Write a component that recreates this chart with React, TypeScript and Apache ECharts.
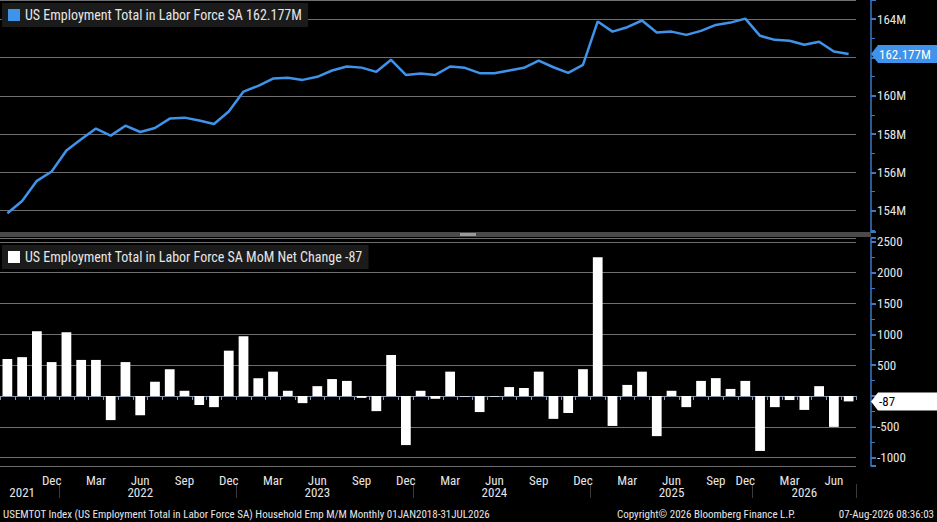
import React, { useEffect, useRef } from 'react';
import * as echarts from 'echarts';

// Sep 2021 .. Jul 2026 (no Oct 2025 release)
const months = [
    '2021-09', '2021-10', '2021-11', '2021-12',
    '2022-01', '2022-02', '2022-03', '2022-04', '2022-05', '2022-06', '2022-07', '2022-08', '2022-09', '2022-10', '2022-11', '2022-12',
    '2023-01', '2023-02', '2023-03', '2023-04', '2023-05', '2023-06', '2023-07', '2023-08', '2023-09', '2023-10', '2023-11', '2023-12',
    '2024-01', '2024-02', '2024-03', '2024-04', '2024-05', '2024-06', '2024-07', '2024-08', '2024-09', '2024-10', '2024-11', '2024-12',
    '2025-01', '2025-02', '2025-03', '2025-04', '2025-05', '2025-06', '2025-07', '2025-08', '2025-09', '2025-11', '2025-12',
    '2026-01', '2026-02', '2026-03', '2026-04', '2026-05', '2026-06', '2026-07'
];

// millions
const employment = [
    153.87, 154.51, 155.56, 156.05, 157.14, 157.73, 158.29, 157.92, 158.44, 158.11, 158.32, 158.81, 158.86, 158.71, 158.53, 159.18,
    160.22, 160.52, 160.90, 160.94, 160.83, 160.99, 161.32, 161.53, 161.47, 161.25, 161.88, 161.09, 161.16, 161.09, 161.53, 161.46,
    161.18, 161.18, 161.32, 161.46, 161.84, 161.49, 161.20, 161.61, 163.88, 163.35, 163.58, 163.93, 163.30, 163.35, 163.18, 163.39,
    163.70, 163.82, 164.03, 163.13, 162.92, 162.87, 162.66, 162.82, 162.31, 162.177
];

// thousands
const netChange = [
    600, 630, 1050, 550, 1035, 585, 585, -390, 550, -310, 230, 435, 85, -145, -180, 735,
    970, 290, 395, 85, -115, 160, 275, 245, -30, -245, 665, -795, 85, -45, 395, -10,
    -260, -10, 145, 130, 395, -370, -275, 435, 2250, -485, 180, 395, -650, 85, -180, 245,
    290, 115, 245, -890, -180, -65, -225, 160, -500, -87
];

const monthNames = ['Jan', 'Feb', 'Mar', 'Apr', 'May', 'Jun', 'Jul', 'Aug', 'Sep', 'Oct', 'Nov', 'Dec'];
const quarterLabels = ['Dec', 'Mar', 'Jun', 'Sep'];
const yearLabelAt: Record<string, string> = {
    '2021-10': '2021', '2022-06': '2022', '2023-06': '2023', '2024-06': '2024', '2025-06': '2025', '2026-04': '2026'
};

const FONT = '"Liberation Sans Narrow", "Roboto Condensed", "Arial Narrow", "Liberation Sans", sans-serif';
const BLUE = '#3f93ea';
const AXIS = '#3b78c9';
const TEXT = '#e6e6e6';
const GRID_LINE = '#6e6e6e';

const monthLabel = (m: string) => monthNames[parseInt(m.slice(5), 10) - 1];

export default function App() {
    const chartRef = useRef<HTMLDivElement>(null);

    useEffect(() => {
        if (!chartRef.current) return;
        const chart = echarts.init(chartRef.current, undefined, { renderer: 'svg' });

        const yAxisCommon = {
            type: 'value' as const,
            position: 'right' as const,
            offset: 15,
            axisLine: { show: true, lineStyle: { color: AXIS, width: 1.5 } },
            axisTick: { show: true, length: 5, inside: false, lineStyle: { color: AXIS, width: 2 } },
            minorTick: { show: true, splitNumber: 2, length: 4, lineStyle: { color: AXIS } },
            splitLine: { show: true, lineStyle: { color: GRID_LINE, width: 1 } },
            axisLabel: { color: TEXT, fontFamily: FONT, fontSize: 13, margin: 6, showMinLabel: false, showMaxLabel: false }
        };

        const lastLine = employment[employment.length - 1];
        const lastBar = netChange[netChange.length - 1];

        chart.setOption({
            animation: false,
            backgroundColor: '#000',
            legend: [
                {
                    data: ['US Employment Total in Labor Force SA'],
                    left: 2, top: 3,
                    backgroundColor: '#1b1b1b',
                    padding: [5, 6, 5, 6],
                    icon: 'rect', itemWidth: 12, itemHeight: 12, itemGap: 4,
                    selectedMode: false,
                    formatter: (n: string) => `${n} ${lastLine.toFixed(3)}M`,
                    textStyle: { color: TEXT, fontFamily: FONT, fontSize: 14 }
                },
                {
                    data: ['US Employment Total in Labor Force SA MoM Net Change'],
                    left: 2, top: 245,
                    backgroundColor: '#1b1b1b',
                    padding: [5, 6, 5, 6],
                    icon: 'rect', itemWidth: 12, itemHeight: 12, itemGap: 4,
                    selectedMode: false,
                    formatter: (n: string) => `${n} ${lastBar}`,
                    textStyle: { color: TEXT, fontFamily: FONT, fontSize: 14 }
                }
            ],
            grid: [
                { left: -4, right: 81, top: 0, height: 232 },
                { left: -4, right: 81, top: 238, height: 228 }
            ],
            xAxis: [
                { type: 'category', gridIndex: 0, data: months, show: false, boundaryGap: true },
                {
                    type: 'category', gridIndex: 1, data: months, boundaryGap: true,
                    axisLine: { show: true, lineStyle: { color: '#8a9ab0', width: 1 } },
                    axisTick: { show: true, interval: 0, length: 4, lineStyle: { color: '#8a9ab0' } },
                    axisLabel: {
                        color: TEXT, fontFamily: FONT, fontSize: 13, margin: 8,
                        interval: (i: number, v: string) => i > 0 && quarterLabels.includes(monthLabel(v)),
                        formatter: (v: string) => monthLabel(v)
                    }
                },
                {
                    type: 'category', gridIndex: 1, data: months, boundaryGap: true, position: 'bottom', offset: 18,
                    axisLine: { show: false },
                    axisTick: {
                        show: true, length: 14, lineStyle: { color: '#3a3a3a' },
                        interval: (_i: number, v: string) => v.endsWith('-01')
                    },
                    axisLabel: {
                        color: TEXT, fontFamily: FONT, fontSize: 13, margin: 2,
                        interval: (_i: number, v: string) => v in yearLabelAt,
                        formatter: (v: string) => yearLabelAt[v] || ''
                    }
                }
            ],
            yAxis: [
                {
                    ...yAxisCommon, gridIndex: 0, min: 152.89, max: 165.0, splitNumber: 6,
                    // 162M sits under the last-value tag
                    axisLabel: { ...yAxisCommon.axisLabel, formatter: (v: number) => (v === 162 ? '' : `${v}M`) }
                },
                {
                    ...yAxisCommon, gridIndex: 1, min: -1134, max: 2561, splitNumber: 7,
                    axisLabel: { ...yAxisCommon.axisLabel, formatter: (v: number) => (v === 0 ? '' : String(v)) }
                }
            ],
            series: [
                {
                    name: 'US Employment Total in Labor Force SA',
                    type: 'line', xAxisIndex: 0, yAxisIndex: 0,
                    data: employment, showSymbol: false,
                    itemStyle: { color: BLUE },
                    lineStyle: { color: BLUE, width: 2.5 }
                },
                {
                    name: 'US Employment Total in Labor Force SA MoM Net Change',
                    type: 'bar', xAxisIndex: 1, yAxisIndex: 1,
                    data: netChange, barCategoryGap: '34%',
                    itemStyle: { color: '#ffffff' }
                }
            ]
        });

        // last-value tags on the right axis, placed through the axis scales
        const lineY = chart.convertToPixel({ yAxisIndex: 0 }, lastLine) as number;
        const barY = chart.convertToPixel({ yAxisIndex: 1 }, lastBar) as number;
        const axisX = 937 - 81 + 15;
        const tag = (y: number, text: string, bg: string, fg: string) => ({
            type: 'group',
            z: 100,
            children: [
                { type: 'polygon', z: 100, shape: { points: [[axisX, y], [axisX + 7, y - 9], [937, y - 9], [937, y + 9], [axisX + 7, y + 9]] }, style: { fill: bg } },
                { type: 'text', z: 101, x: axisX + 8, y, style: { text, fill: fg, font: `13px ${FONT}`, verticalAlign: 'middle' } }
            ]
        });
        chart.setOption({
            graphic: [
                { type: 'rect', shape: { x: 0, y: 232, width: 871, height: 5 }, style: { fill: '#4a4a4a' } },
                { type: 'rect', shape: { x: 460, y: 233, width: 16, height: 3 }, style: { fill: '#9a9a9a' } },
                tag(lineY, `${lastLine.toFixed(3)}M`, BLUE, '#ffffff'),
                tag(barY, `${lastBar}`, '#ffffff', '#000000'),
                {
                    type: 'text', left: 3, bottom: 2,
                    style: { text: 'USEMTOT Index (US Employment Total in Labor Force SA) Household Emp M/M Monthly 01JAN2018-31JUL2026', fill: TEXT, font: `11px ${FONT}` }
                },
                {
                    type: 'text', left: 617, bottom: 2,
                    style: { text: 'Copyright© 2026 Bloomberg Finance L.P.', fill: TEXT, font: `11px ${FONT}` }
                },
                {
                    type: 'text', right: 3, bottom: 2,
                    style: { text: '07-Aug-2026 08:36:03', fill: TEXT, font: `11px ${FONT}` }
                }
            ]
        });

        return () => chart.dispose();
    }, []);

    return <div ref={chartRef} style={{ position: 'absolute', left: 0, top: 0, width: 937, height: 522 }} />;
}
